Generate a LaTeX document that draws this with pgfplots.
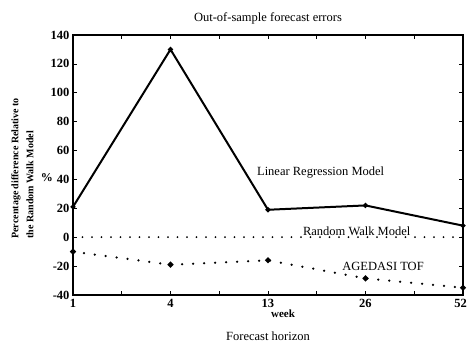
\documentclass[border=0pt]{standalone}
\usepackage{pgfplots}
\pgfplotsset{compat=1.18}
\usepackage{fontspec}
\setmainfont{Liberation Serif}
\usetikzlibrary{calc}
\begin{document}
\begin{tikzpicture}
\begin{axis}[
  name=ax,
  scale only axis,
  width=390pt, height=260pt,
  xmin=0, xmax=4, ymin=-40, ymax=140,
  xtick={0,1,2,3,4},
  xticklabels={1,4,13,26,\makebox[0pt][r]{52\kern-4pt}},
  minor x tick num=1,
  ytick={-40,-20,0,20,40,60,80,100,120,140},
  tick align=inside,
  major tick length=4pt, minor tick length=4pt,
  tick style={black, line width=0.7pt},
  axis line style={line width=1.2pt},
  /pgf/number format/assume math mode=true,
  ticklabel style={font=\fontsize{12.5}{13}\selectfont\bfseries},
  xticklabel style={yshift=-1pt},
  title={Out-of-sample forecast errors},
  title style={font=\fontsize{12.5}{14}\selectfont, yshift=1pt},
  xlabel={Forecast horizon},
  xlabel style={font=\fontsize{12.5}{14}\selectfont, yshift=-17pt},
  clip=false,
]
\addplot[black, line width=2pt, mark=*, mark size=1.4pt] coordinates {
  (0,21) (1,130) (2,19) (3,22) (4,8)};
\addplot[black, line width=2pt, line cap=round, dash pattern=on 0pt off 9.5pt] coordinates {
  (0,0) (1,0) (2,0) (3,0) (4,0)};
\addplot[black, line width=2.5pt, line cap=round, dash pattern=on 0pt off 11pt, mark=*, mark size=1.4pt, mark options={solid}] coordinates {
  (0,-10) (1,-19) (2,-16) (3,-28.5) (4,-35)};
\node[font=\fontsize{12.5}{14}\selectfont] at (axis cs:2.54,44.5) {Linear Regression Model};
\node[font=\fontsize{12.5}{14}\selectfont] at (axis cs:2.91,4) {Random Walk Model};
\node[font=\fontsize{12.5}{14}\selectfont] at (axis cs:3.18,-20) {AGEDASI TOF};
\node[font=\fontsize{11}{12}\selectfont\bfseries] at (axis cs:2,-40) [xshift=15pt, yshift=-19pt] {week};
\node[font=\fontsize{12}{12}\selectfont\bfseries] at (axis cs:0,41) [xshift=-26pt] {\%};
\end{axis}
\node[rotate=90, align=left, font=\fontsize{10}{15}\selectfont\bfseries]
  at ($(ax.south west)!0.487!(ax.north west) + (-50.5pt,0)$)
  {Percentage difference Relative to\\the Random Walk Model};
\pgfresetboundingbox
\path ($(ax.south west)+(-73pt,-52pt)$) rectangle ($(ax.south west)+(394pt,295pt)$);
\end{tikzpicture}
\end{document}
